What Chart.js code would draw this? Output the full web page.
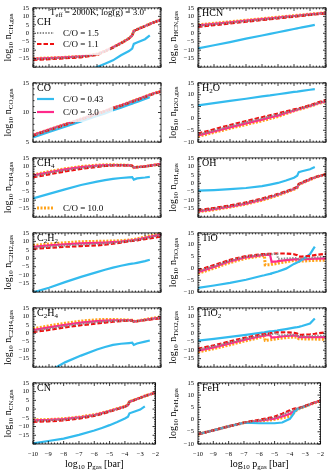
<!DOCTYPE html>
<html>
<head>
<meta charset="utf-8">
<script src="https://cdn.jsdelivr.net/npm/chart.js@4"></script>
<style>
body { margin: 0; background: #fff; width: 333px; height: 470px; position: relative; overflow: hidden; }
canvas { position: absolute; }
</style>
</head>
<body>
<script>
// log10 p_gas [bar] grids
const P = [-10, -9, -8, -7, -6, -5.5, -5, -4.5, -4, -3.8, -3.7, -3.5, -3, -2.7, -2.5, -2];
const P_TI = [-10, -9, -8, -7, -6, -5.85, -5.8, -5.5, -5.45, -5.4, -5.05, -5, -4.5, -4, -3.8, -3.7, -3.5, -3, -2.7, -2.5, -2];
const X_TICKS = [-10, -9, -8, -7, -6, -5, -4, -3, -2];
// C/O ratios in plotting order
const RATIOS = ['1.5', '1.1', '0.43', '3.0', '10.0'];

// log10 n_gas per species, keyed by C/O
const CH = {
  '0.43': [-36, -32, -28, -24, -20, -18, -16, -13, -10.5, -9, -6.3, -5.5, -3.5, -1.2, null, null],
  '1.1': [-15.8, -15.3, -14.8, -14.2, -12.8, -10.8, -8.5, -5.9, -3.1, -1.3, 1.2, 2.2, 4.2, 5.4, 6.2, 7.9],
  '1.5': [-15.3, -14.9, -14.4, -13.8, -12.5, -10.6, -8.4, -5.8, -3, -1.2, 1.3, 2.3, 4.3, 5.5, 6.3, 8],
  '3.0': [-15.1, -14.7, -14.3, -13.7, -12.4, -10.5, -8.3, -5.8, -3, -1.2, 1.3, 2.3, 4.3, 5.5, 6.3, 8],
  '10.0': [-15, -14.6, -14.2, -13.6, -12.3, -10.5, -8.3, -5.8, -3, -1.2, 1.3, 2.3, 4.3, 5.5, 6.3, 8]
};
const HCN = {
  '0.43': [-9, -7.1, -5.2, -3.2, -1.3, -0.4, 0.6, 1.6, 2.5, 2.9, 3.1, 3.5, 4.4, 5, null, null],
  '1.1': [3.8, 4.8, 5.8, 6.8, 7.8, 8.3, 8.8, 9.3, 9.8, 10, 10.1, 10.3, 10.8, 11.1, 11.3, 11.8],
  '1.5': [4.3, 5.3, 6.2, 7.2, 8.1, 8.6, 9.1, 9.6, 10.1, 10.3, 10.4, 10.6, 11, 11.3, 11.5, 12],
  '3.0': [4.7, 5.6, 6.5, 7.5, 8.4, 8.8, 9.3, 9.8, 10.2, 10.4, 10.5, 10.7, 11.2, 11.5, 11.6, 12.1],
  '10.0': [5, 5.9, 6.8, 7.7, 8.6, 9.05, 9.5, 9.95, 10.4, 10.6, 10.7, 10.85, 11.3, 11.6, 11.75, 12.2]
};
const CO = {
  '0.43': [5.8, 6.7, 7.6, 8.5, 9.4, 9.85, 10.4, 10.8, 11.3, 11.5, 11.6, 11.8, 12.3, 12.6, null, null],
  '1.1': [6.1, 7, 7.9, 8.8, 9.7, 10.2, 10.7, 11.1, 11.6, 11.8, 11.9, 12.1, 12.6, 12.9, 13.1, 13.5],
  '1.5': [6.15, 7.05, 7.95, 8.85, 9.75, 10.2, 10.75, 11.15, 11.65, 11.85, 11.95, 12.15, 12.65, 12.95, 13.15, 13.55],
  '3.0': [6.2, 7.1, 8, 8.9, 9.8, 10.25, 10.8, 11.2, 11.7, 11.9, 12, 12.2, 12.7, 13, 13.2, 13.6],
  '10.0': [6.2, 7.1, 8, 8.9, 9.8, 10.25, 10.8, 11.2, 11.7, 11.9, 12, 12.2, 12.7, 13, 13.2, 13.6]
};
const H2O = {
  '0.43': [5.5, 6.45, 7.4, 8.3, 9.3, 9.7, 10.2, 10.7, 11.2, 11.3, 11.4, 11.6, 12.1, 12.4, null, null],
  '1.1': [-6.4, -4.6, -2.8, -1.1, 0.5, 1.3, 2.1, 3, 3.8, 4.1, 4.3, 4.6, 5.6, 6.3, 6.8, 7.8],
  '1.5': [-6.8, -5.1, -3.3, -1.6, 0, 0.9, 1.7, 2.6, 3.5, 3.8, 4, 4.4, 5.4, 6, 6.5, 7.4],
  '3.0': [-7.2, -5.5, -3.8, -2.1, -0.5, 0.4, 1.2, 2.3, 3.3, 3.7, 3.9, 4.3, 5.3, 5.9, 6.4, 7.2],
  '10.0': [-7.6, -5.9, -4.2, -2.6, -1, -0.1, 0.8, 2, 3.2, 3.6, 3.8, 4.2, 5.2, 5.8, 6.3, 7.1]
};
const CH4 = {
  '0.43': [-9, -6.3, -3.6, -1, 1, 1.9, 2.6, 3.1, 3.5, 3.6, 2.2, 2.9, 3.4, 3.8, null, null],
  '1.1': [3.5, 5.3, 7, 8.5, 9.7, 10.2, 10.5, 10.6, 10.5, 10.3, 9.2, 9.5, 9.9, 10.3, 10.6, 11.2],
  '1.5': [4.1, 6, 7.7, 9.1, 10.1, 10.5, 10.7, 10.7, 10.5, 10.3, 9.2, 9.5, 9.9, 10.3, 10.6, 11.2],
  '3.0': [4.6, 6.5, 8.2, 9.5, 10.4, 10.7, 10.8, 10.7, 10.6, 10.4, 9.3, 9.6, 10, 10.4, 10.7, 11.3],
  '10.0': [5, 6.9, 8.6, 9.9, 10.7, 10.9, 10.9, 10.8, 10.6, 10.4, 9.3, 9.6, 10, 10.4, 10.7, 11.3]
};
const OH = {
  '0.43': [-4.3, -4, -3.5, -2.8, -1.7, -0.8, 0.2, 1.6, 3.3, 4.5, 6.6, 7.1, 8.3, 9.6, null, null],
  '1.1': [-15.9, -14.6, -13.1, -11.3, -9, -7.7, -6.3, -4.7, -3, -2.1, -0.3, 0.5, 2.6, 3.6, 4.2, 5.4],
  '1.5': [-16.3, -15, -13.5, -11.7, -9.4, -8.1, -6.6, -5, -3.3, -2.3, -0.5, 0.3, 2.4, 3.5, 4.1, 5.3],
  '3.0': [-16.6, -15.3, -13.8, -12, -9.7, -8.3, -6.8, -5.2, -3.4, -2.4, -0.6, 0.2, 2.3, 3.4, 4, 5.2],
  '10.0': [-16.9, -15.6, -14.1, -12.3, -10, -8.6, -7.1, -5.4, -3.6, -2.6, -0.8, 0.1, 2.2, 3.3, 4, 5.2]
};
const C2H2 = {
  '0.43': [-20.2, -17.4, -14.1, -11, -8.2, -6.8, -5.5, -4.4, -3.5, -3.2, -3.1, -2.7, -1.7, -0.9, null, null],
  '1.1': [5.6, 6.2, 6.8, 7.2, 7.6, 8, 8.6, 9.3, 10, 10.2, 10.3, 10.6, 11.3, 11.8, 12.1, 12.8],
  '1.5': [6.2, 6.9, 7.6, 8.1, 8.5, 8.8, 9.1, 9.6, 10.2, 10.4, 10.5, 10.9, 11.8, 12.4, 12.8, 13.5],
  '3.0': [6.8, 7.6, 8.3, 8.8, 9.1, 9.3, 9.6, 9.9, 10.4, 10.6, 10.7, 11.1, 12.1, 12.7, 13.1, 13.8],
  '10.0': [7.6, 8.4, 9.2, 9.8, 10, 10.1, 10.2, 10.4, 10.8, 11, 11.1, 11.5, 12.6, 13.2, 13.6, 14.3]
};
const TIO = {
  '0.43': [-8.2, -7.2, -6.1, -4.8, -3.1, -2.9, -2.8, -2.3, -2.2, -2.1, -1.4, -1.3, -0.1, 1.9, 2.5, 2.8, 3.6, 6, 9.2, null, null],
  '1.1': [-0.8, 1.4, 3.6, 5.2, 6, 6.1, 6.1, 6.2, 6.2, 6.2, 6.3, 6.3, 6.3, 6, 5.6, 5, 5, 5.3, 5.6, 5.8, 6.2],
  '1.5': [-1.2, 1, 3.3, 5, 5.8, 5.9, 5.9, 6, 6, 6, 6.1, 4, 4.2, 4.4, 4.4, 4, 4.1, 4.4, 4.6, 4.7, 4.9],
  '3.0': [-1.6, 0.6, 3, 4.7, 5.6, 5.7, 5.7, 5.8, 5.8, 2.8, 3, 3.1, 3.5, 3.8, 3.9, 3.7, 3.8, 4, 4.1, 4.1, 4.2],
  '10.0': [-2.1, 0.1, 2.5, 4.3, 5.3, 5.4, 1.5, 1.6, 1.6, 1.7, 2.1, 2.2, 2.8, 3.4, 3.5, 3, 3.1, 3.3, 3.4, 3.4, 3.5]
};
const C2H4 = {
  '0.43': [-30, -22.5, -17.2, -13.2, -9.6, -8.1, -6.9, -6.2, -5.8, -5.6, -6.9, -6, -4.9, -4.3, null, null],
  '1.1': [0.7, 2, 3.5, 4.8, 5.8, 6.3, 6.8, 7.2, 7.5, 7.5, 6.8, 7.1, 7.7, 8.1, 8.4, 8.8],
  '1.5': [1.3, 2.8, 4.3, 5.6, 6.6, 7, 7.3, 7.5, 7.6, 7.6, 6.9, 7.2, 7.9, 8.3, 8.6, 9.1],
  '3.0': [1.9, 3.5, 5, 6.3, 7.2, 7.5, 7.7, 7.7, 7.7, 7.6, 6.9, 7.2, 8, 8.4, 8.7, 9.3],
  '10.0': [2.6, 4.4, 5.9, 7.2, 8, 8.2, 8.2, 8, 7.8, 7.7, 7, 7.3, 8.1, 8.6, 8.9, 9.6]
};
const TIO2 = {
  '0.43': [-4.4, -3.3, -2.1, -0.9, 0.4, 0.6, 0.7, 1.1, 1.1, 1.2, 1.6, 1.7, 2.5, 3.3, 3.6, 3.8, 4.3, 5.8, 8.8, null, null],
  '1.1': [-9.1, -7.1, -4.8, -2.5, -0.7, -0.5, -0.4, 0, 0.1, 0.1, 0.5, 0.5, 0.6, 0.3, -0.2, -0.9, -0.9, -0.6, -0.3, 0, 0.5],
  '1.5': [-9.7, -7.7, -5.4, -3.1, -1.1, -0.9, -0.8, -0.5, -0.4, -0.4, 0, -1.4, -1, -0.9, -1.1, -1.8, -1.8, -1.7, -1.6, -1.5, -1.4],
  '3.0': [-10.3, -8.3, -6, -3.7, -1.6, -1.4, -1.3, -1, -1, -2.6, -2.2, -2.1, -1.6, -1.3, -1.5, -2.3, -2.3, -2.3, -2.3, -2.3, -2.3],
  '10.0': [-11, -9.1, -6.8, -4.4, -2.2, -2, -4.2, -3.9, -3.8, -3.7, -3.2, -3.1, -2.6, -2.2, -2.4, -3.3, -3.3, -3.4, -3.4, -3.5, -3.6]
};
const CN = {
  '0.43': [-19.6, -18.3, -16.9, -14.8, -12.3, -10.8, -9.2, -7.4, -5.4, -4.4, -2.4, -1.8, -0.3, 1.6, null, null],
  '1.1': [-7.3, -7, -6.5, -5.5, -3.9, -2.8, -1.5, -0.1, 1.3, 2.1, 4.2, 4.7, 6.4, 7.4, 8, 9.3],
  '1.5': [-6.8, -6.5, -6, -5, -3.6, -2.5, -1.3, 0.1, 1.4, 2.2, 4.3, 4.8, 6.4, 7.4, 8, 9.3],
  '3.0': [-6.5, -6.2, -5.7, -4.8, -3.4, -2.3, -1.1, 0.2, 1.5, 2.3, 4.3, 4.8, 6.5, 7.5, 8.1, 9.4],
  '10.0': [-6.2, -6, -5.5, -4.6, -3.2, -2.2, -1, 0.3, 1.6, 2.4, 4.4, 4.9, 6.5, 7.5, 8.1, 9.4]
};
const FEH = {
  '0.43': [-6, -4.4, -2.8, -1.3, -1.5, -1.5, -1.5, -1.2, 0.3, 2, 3.2, 4.3, 5.5, 6.1, null, null],
  '1.1': [-6, -4.4, -2.8, -1.2, -0.1, 0.5, 1.2, 2.4, 3.8, 4.3, 4.5, 4.6, 5.6, 6.3, 6.8, 7.8],
  '1.5': [-6, -4.4, -2.8, -1.2, -0.3, 0.2, 0.8, 1.9, 3.2, 3.8, 4.2, 4.5, 5.5, 6.2, 6.7, 7.7],
  '3.0': [-6, -4.4, -2.8, -1.3, -0.5, 0, 0.4, 1.3, 2.4, 3.1, 3.8, 4.4, 5.5, 6.2, 6.7, 7.7],
  '10.0': [-6, -4.4, -2.8, -1.3, -0.7, -0.3, 0.1, 0.7, 1.4, 2.2, 3.2, 4.2, 5.4, 6.1, 6.6, 7.6]
};

const STYLE = {
  '0.43': { color: '#33bbee', dash: [], width: 2.2 },
  '1.1': { color: '#ee1111', dash: [4.5, 2], width: 2.2 },
  '1.5': { color: '#8c8c8c', dash: [1.4, 1.4], width: 2 },
  '3.0': { color: '#ff2a8a', dash: [], width: 2.2 },
  '10.0': { color: '#ffa31a', dash: [2, 1.5], width: 3 }
};

const PANELS = [
  { data: CH, x: P, y: [-20, 15], name: [['CH', 0]], sub: 'CH,gas' },
  { data: HCN, x: P, y: [-20, 15], name: [['HCN', 0]], sub: 'HCN,gas' },
  { data: CO, x: P, y: [5, 15], name: [['CO', 0]], sub: 'CO,gas' },
  { data: H2O, x: P, y: [-10, 15], name: [['H', 0], ['2', 1], ['O', 0]], sub: 'H2O,gas' },
  { data: CH4, x: P, y: [-20, 15], name: [['CH', 0], ['4', 1]], sub: 'CH4,gas' },
  { data: OH, x: P, y: [-20, 15], name: [['OH', 0]], sub: 'OH,gas' },
  { data: C2H2, x: P, y: [-20, 15], name: [['C', 0], ['2', 1], ['H', 0], ['2', 1]], sub: 'C2H2,gas' },
  { data: TIO, x: P_TI, y: [-10, 15], name: [['TiO', 0]], sub: 'TiO,gas' },
  { data: C2H4, x: P, y: [-20, 15], name: [['C', 0], ['2', 1], ['H', 0], ['4', 1]], sub: 'C2H4,gas' },
  { data: TIO2, x: P_TI, y: [-20, 15], name: [['TiO', 0], ['2', 1]], sub: 'TiO2,gas' },
  { data: CN, x: P, y: [-20, 15], name: [['CN', 0]], sub: 'CN,gas' },
  { data: FEH, x: P, y: [-10, 15], name: [['FeH', 0]], sub: 'FeH,gas' }
];

// legend placement per panel index: entries, their y in canvas px, box
const LEGENDS = {
  0: { keys: ['1.5', '1.1'], ys: [33, 44], box: [35, 17, 110, 55] },
  2: { keys: ['0.43', '3.0'], ys: [24, 37], box: [35, 5, 113, 47] },
  4: { keys: ['10.0'], ys: [58], box: [35, 51, 113, 66] }
};

const FONT = '"Liberation Serif", "DejaVu Serif", serif';
const fmt = v => (v < 0 ? '\u2212' + Math.abs(v) : String(v));

function partsWidth(ctx, parts, size) {
  let w = 0;
  for (const [t, s] of parts) {
    ctx.font = (s ? size * 0.7 : size) + 'px ' + FONT;
    w += ctx.measureText(t).width;
  }
  return w;
}
function drawParts(ctx, parts, x, y, size) {
  let cx = x;
  for (const [t, s] of parts) {
    ctx.font = (s ? size * 0.7 : size) + 'px ' + FONT;
    ctx.fillText(t, cx, s ? y + size * 0.22 : y);
    cx += ctx.measureText(t).width;
  }
}

function makePlugin(pn, idx, bottomRow) {
  return {
    id: 'frame' + idx,
    afterDatasetsDraw(chart) {
      const lg = LEGENDS[idx];
      if (!lg) return;
      const ctx = chart.ctx;
      ctx.save();
      const [x0, y0, x1, y1] = lg.box;
      ctx.fillStyle = 'rgba(255,255,255,0.8)';
      ctx.beginPath();
      ctx.roundRect(x0, y0, x1 - x0, y1 - y0, 2);
      ctx.fill();
      lg.keys.forEach((k, j) => {
        const st = STYLE[k];
        const y = lg.ys[j];
        ctx.strokeStyle = st.color;
        ctx.lineWidth = st.width;
        ctx.setLineDash(st.dash);
        ctx.beginPath();
        ctx.moveTo(37, y);
        ctx.lineTo(54, y);
        ctx.stroke();
        ctx.setLineDash([]);
        ctx.fillStyle = '#000';
        ctx.font = '9px ' + FONT;
        ctx.textBaseline = 'alphabetic';
        ctx.fillText('C/O = ' + k, 63, y + 3);
      });
      ctx.restore();
    },
    afterDraw(chart) {
      const ctx = chart.ctx;
      const a = chart.chartArea;
      const xs = chart.scales.x, ys = chart.scales.y;
      ctx.save();
      ctx.strokeStyle = '#000';
      ctx.lineWidth = 0.8;
      ctx.strokeRect(a.left, a.top, a.right - a.left, a.bottom - a.top);
      ctx.beginPath();
      // x ticks, inward on bottom and top
      for (let k = 0; k <= 40; k++) {
        const r = -10 + k * 0.2;
        const len = k % 5 === 0 ? 3 : 1.5;
        const px = xs.getPixelForValue(r);
        ctx.moveTo(px, a.bottom); ctx.lineTo(px, a.bottom - len);
        ctx.moveTo(px, a.top); ctx.lineTo(px, a.top + len);
      }
      // y ticks
      for (let v = pn.y[0]; v <= pn.y[1]; v += 1) {
        const len = v % 5 === 0 ? 3 : 1.5;
        const py = ys.getPixelForValue(v);
        ctx.moveTo(a.left, py); ctx.lineTo(a.left + len, py);
        ctx.moveTo(a.right, py); ctx.lineTo(a.right - len, py);
      }
      ctx.stroke();

      ctx.fillStyle = '#000';
      ctx.textBaseline = 'alphabetic';
      // species label
      if (idx === 0) {
        const tparts = [['T', 0], ['eff', 1], [' = 2000K, log(g) = 3.0', 0]];
        const w = partsWidth(ctx, tparts, 9);
        drawParts(ctx, tparts, (a.left + a.right) / 2 - w / 2, 15, 9);
        drawParts(ctx, pn.name, 37, 25, 10);
      } else {
        drawParts(ctx, pn.name, 37, 16, 10);
      }
      // y title
      const yparts = [['log', 0], ['10', 1], [' n', 0], [pn.sub, 1]];
      ctx.translate(11, (a.top + a.bottom) / 2);
      ctx.rotate(-Math.PI / 2);
      const w = partsWidth(ctx, yparts, 10);
      drawParts(ctx, yparts, -w / 2, 0, 10);
      ctx.setTransform(1, 0, 0, 1, 0, 0);
      // x title
      if (bottomRow) {
        const xparts = [['log', 0], ['10', 1], [' p', 0], ['gas', 1], [' [bar]', 0]];
        const wx = partsWidth(ctx, xparts, 10);
        drawParts(ctx, xparts, (a.left + a.right) / 2 - wx / 2, 92, 10);
      }
      ctx.restore();
    }
  };
}

PANELS.forEach((pn, i) => {
  const col = i % 2, row = Math.floor(i / 2);
  const bottomRow = row === 5;
  const h = bottomRow ? 95 : 75;
  const cv = document.createElement('canvas');
  cv.width = 165; cv.height = h;
  cv.style.left = (col * 165) + 'px';
  cv.style.top = (row * 75) + 'px';
  cv.style.width = '165px'; cv.style.height = h + 'px';
  document.body.appendChild(cv);

  const datasets = RATIOS.map(r => ({
    label: 'C/O = ' + r,
    data: pn.x.map((x, k) => ({ x: x, y: pn.data[r][k] })),
    borderColor: STYLE[r].color,
    borderWidth: STYLE[r].width,
    borderDash: STYLE[r].dash,
    pointRadius: 0,
    fill: false,
    tension: 0
  }));

  new Chart(cv, {
    type: 'line',
    data: { datasets: datasets },
    options: {
      responsive: false,
      animation: false,
      layout: { padding: { left: 0, right: 4, top: 5, bottom: 0 } },
      plugins: { legend: { display: false }, tooltip: { enabled: false } },
      scales: {
        x: {
          type: 'linear', min: -10, max: -2,
          afterFit: s => { s.height = bottomRow ? 26 : 6; },
          grid: { display: false, drawTicks: false },
          border: { display: false },
          ticks: {
            display: bottomRow, stepSize: 1, autoSkip: false, maxRotation: 0, padding: 6,
            color: '#000', font: { family: FONT, size: 6.5 },
            callback: v => (X_TICKS.includes(v) ? fmt(v) : '')
          }
        },
        y: {
          type: 'linear', min: pn.y[0], max: pn.y[1],
          afterFit: s => { s.width = 33; },
          grid: { display: false, drawTicks: false },
          border: { display: false },
          ticks: {
            stepSize: 5, padding: 4, autoSkip: false,
            color: '#000', font: { family: FONT, size: 6.5 },
            callback: v => (v === -20 ? '' : fmt(v))
          }
        }
      }
    },
    plugins: [makePlugin(pn, i, bottomRow)]
  });
});
</script>
</body>
</html>
